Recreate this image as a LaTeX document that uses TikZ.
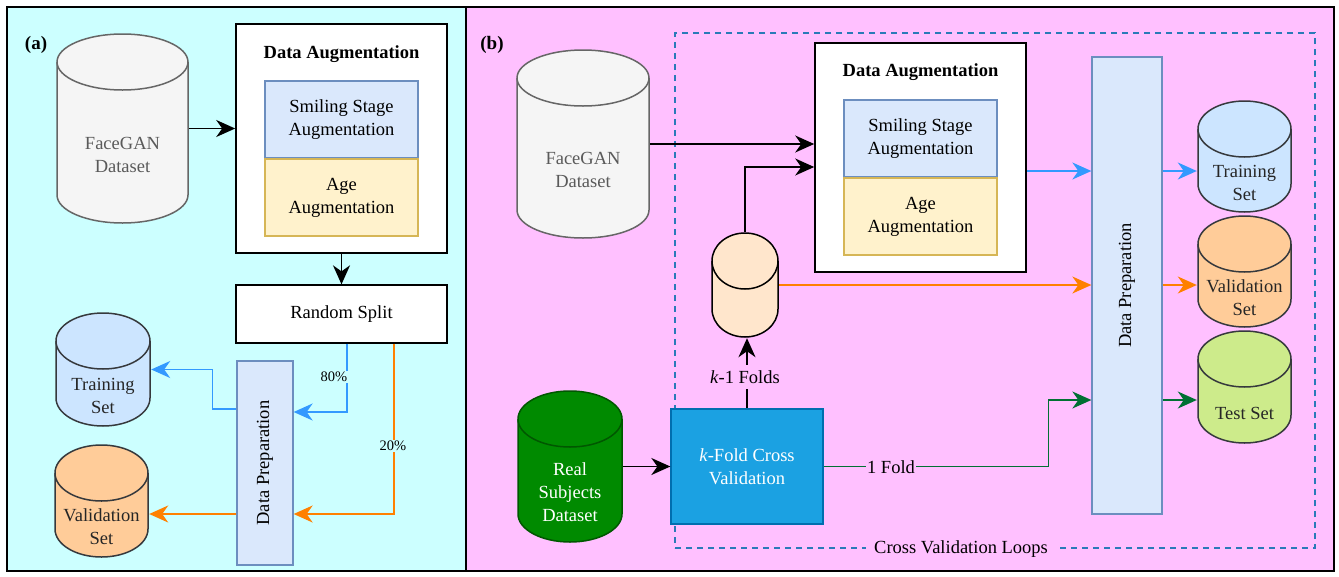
\documentclass[tikz,border=0pt]{standalone}
\usepackage{fontspec}
\setmainfont{Liberation Serif}
\usetikzlibrary{positioning}
\usetikzlibrary{calc}
\usetikzlibrary{arrows.meta}
\definecolor{cyanbg}{HTML}{CCFFFF}
\definecolor{pinkbg}{HTML}{FFC0FF}
\definecolor{fgfill}{HTML}{F5F5F5}
\definecolor{fggray}{HTML}{666666}
\definecolor{fgtext}{HTML}{5A5A5A}
\definecolor{dbline}{HTML}{36393D}
\definecolor{trainfill}{HTML}{CCE5FF}
\definecolor{valfill}{HTML}{FFCC99}
\definecolor{testfill}{HTML}{CDEB8B}
\definecolor{foldfill}{HTML}{FFE6CC}
\definecolor{realfill}{HTML}{008A00}
\definecolor{realline}{HTML}{005700}
\definecolor{kffill}{HTML}{1BA1E2}
\definecolor{kfline}{HTML}{006EAF}
\definecolor{smilefill}{HTML}{DAE8FC}
\definecolor{smileline}{HTML}{6C8EBF}
\definecolor{agefill}{HTML}{FFF2CC}
\definecolor{ageline}{HTML}{D6B656}
\definecolor{arrblue}{HTML}{3399FF}
\definecolor{arrorange}{HTML}{FF8000}
\definecolor{arrgreen}{HTML}{007033}
\definecolor{loopblue}{HTML}{2A7AB8}
\tikzset{%
  db/.style n args = {4}{rectangle, inner sep=0pt,
        minimum width=#3, minimum height=#4,
        path picture={
          \path[fill=#1, draw=#2, line width=1.5pt]
            ([xshift=1pt,yshift=-29pt]path picture bounding box.north west)
            -- ([xshift=1pt,yshift=29pt]path picture bounding box.south west)
            arc[start angle=180, end angle=360, x radius=#3/2-1pt, y radius=28pt]
            -- ([xshift=-1pt,yshift=-29pt]path picture bounding box.north east)
            arc[start angle=0, end angle=180, x radius=#3/2-1pt, y radius=28pt]
            -- cycle;
          \draw[#2, line width=1.5pt]
            ([xshift=1pt,yshift=-29pt]path picture bounding box.north west)
            arc[start angle=180, end angle=360, x radius=#3/2-1pt, y radius=28pt];
        }},
  dbtext/.style = {align=center, yshift=-26pt, text=black!85},
  box/.style = {rectangle, draw, line width=1.6pt, fill=white, inner sep=0pt},
  title/.style = {font=\fontsize{18.5pt}{23pt}\selectfont\bfseries},
  smile/.style = {rectangle, draw=smileline, fill=smilefill, line width=1.3pt,
        minimum width=153pt, minimum height=77pt, align=center, inner sep=0pt},
  age/.style = {rectangle, draw=ageline, fill=agefill, line width=1.3pt,
        minimum width=153pt, minimum height=77pt, align=center, inner sep=0pt},
  prep/.style = {rectangle, draw=smileline, fill=smilefill, line width=1.3pt,
        inner sep=0pt},
  kfold/.style = {rectangle, draw=kfline, fill=kffill, line width=1.3pt,
        minimum width=152pt, minimum height=115pt, align=center, text=white},
  loopbox/.style = {rectangle, draw=loopblue, dash pattern=on 6pt off 5pt,
        line width=1.5pt},
  panel/.style = {font=\fontsize{19pt}{23pt}\selectfont\bfseries},
  pct/.style = {font=\fontsize{14.5pt}{17pt}\selectfont, inner sep=1pt},
  lbl/.style = {inner sep=2pt},
  blackarrow/.style = {-{Stealth[length=19pt,width=17pt,inset=6pt]}, line width=1.6pt},
  bluearrow/.style = {blackarrow, draw=arrblue},
  orangearrow/.style = {blackarrow, draw=arrorange},
  greenarrow/.style = {blackarrow, draw=arrgreen}
}

\begin{document}
\begin{tikzpicture}[x=1pt, y=-1pt, font=\fontsize{18.5pt}{23pt}\selectfont]
\useasboundingbox (0,0) rectangle (1339,576);
% panels
\draw[line width=2pt, fill=cyanbg] (7,7) rectangle (466,571);
\draw[line width=2pt, fill=pinkbg] (466,7) rectangle (1334,571);
\node[panel] (tagA) at (36,45) {(a)};
\node[panel] (tagB) at (492,45) {(b)};

% (a) random split
\node[db={fgfill}{fggray}{133pt}{191pt},
      label={[dbtext, text=fgtext]center:FaceGAN\\Dataset}] (fgA) at (122.5,128.5) {};
\node[box, minimum width=211pt, minimum height=229pt] (augA) at (341.5,138.5) {};
\node[title] (augAt) at (341.5,54) {Data Augmentation};
\node[smile] (smileA) at (341.5,119.5) {Smiling Stage\\Augmentation};
\node[age] (ageA) at (341.5,197.5) {Age\\Augmentation};
\node[box, minimum width=211pt, minimum height=58pt, line width=1.3pt] (splitA) at (341.5,314) {Random Split};
\node[db={trainfill}{dbline}{96pt}{115pt},
      label={[dbtext]center:Training\\Set}] (trainA) at (103,369.5) {};
\node[db={valfill}{dbline}{95pt}{114pt},
      label={[dbtext]center:Validation\\Set}] (valA) at (101.5,501) {};
\node[prep, minimum width=56pt, minimum height=204pt] (prepA) at (265,463) {\rotatebox{90}{Data Preparation}};

\draw[blackarrow] (fgA.east) -- (fgA.east -| augA.west);
\draw[blackarrow] (augA.south) -- (splitA.north);
\draw[bluearrow] ([xshift=5.5pt]splitA.south) |- ([yshift=51pt]prepA.east);
\draw[bluearrow] ([yshift=54pt]prepA.west) -- ++(-24,0) |- (trainA.east);
\draw[orangearrow] ([xshift=52.5pt]splitA.south) |- ([yshift=-51pt]prepA.east);
\draw[orangearrow] ([yshift=-51pt]prepA.west) -- ([yshift=-51pt]prepA.west -| valA.east);
\node[pct, fill=cyanbg] (lbl80) at (334,377) {80\%};
\node[pct, fill=cyanbg] (lbl20) at (393,446) {20\%};

% (b) cross validation
\node[loopbox, minimum width=640pt, minimum height=515pt] (loops) at (995,290.5) {};
\node[db={fgfill}{fggray}{134pt}{190pt},
      label={[dbtext, text=fgtext]center:FaceGAN\\Dataset}] (fgB) at (583,144) {};
\node[box, minimum width=211pt, minimum height=229pt] (augB) at (920.5,157.5) {};
\node[title] (augBt) at (920.5,72) {Data Augmentation};
\node[smile] (smileB) at (920.5,138.5) {Smiling Stage\\Augmentation};
\node[age] (ageB) at (920.5,216.5) {Age\\Augmentation};
\node[db={foldfill}{black}{68pt}{106pt}] (foldsB) at (745,285) {};
\node[prep, minimum width=70pt, minimum height=457pt] (prepB) at (1127,285.5) {\rotatebox{90}{Data Preparation}};
\node[db={trainfill}{dbline}{95pt}{113pt},
      label={[dbtext]center:Training\\Set}] (trainB) at (1244.5,156.5) {};
\node[db={valfill}{dbline}{95pt}{113pt},
      label={[dbtext]center:Validation\\Set}] (valB) at (1244.5,271.5) {};
\node[db={testfill}{dbline}{95pt}{114pt},
      label={[dbtext]center:Test Set}] (testB) at (1244.5,387) {};
\node[kfold] (kfB) at (747,466.5) {\textit{k}-Fold Cross\\Validation};
\node[db={realfill}{realline}{106pt}{153pt},
      label={[dbtext, text=white]center:Real\\Subjects\\Dataset}] (realB) at (570,466.5) {};

\draw[blackarrow] (fgB.east) -- (fgB.east -| augB.west);
\draw[blackarrow] (foldsB.north) |- ([yshift=-9.5pt]augB.west);
\draw[bluearrow] ([yshift=-13.5pt]augB.east) -- ([yshift=-13.5pt]augB.east -| prepB.west);
\draw[bluearrow] ([yshift=-13.5pt]augB.east -| prepB.east) -- ([yshift=-13.5pt]augB.east -| trainB.west);
\draw[orangearrow] (foldsB.east) -- (foldsB.east -| prepB.west);
\draw[orangearrow] (foldsB.east -| prepB.east) -- (foldsB.east -| valB.west);
\draw[blackarrow] (realB.east) -- (kfB.west);
\draw[blackarrow] (kfB.north) -- (kfB.north |- foldsB.south);
\draw[greenarrow] (kfB.east) -- ++(225,0) |- ([yshift=-114.5pt]prepB.west);
\draw[greenarrow] ([yshift=-114.5pt]prepB.east) -- ([yshift=-114.5pt]prepB.east -| testB.west);
\node[lbl, fill=pinkbg, inner sep=5pt] (lblk) at (745,377) {\textit{k}-1 Folds};
\node[lbl, fill=pinkbg, inner sep=1pt] (lbl1) at (891,467) {1 Fold};
\node[lbl, fill=pinkbg, inner xsep=8pt] (lblloop) at ([xshift=-34pt]loops.south) {Cross Validation Loops};
\end{tikzpicture}
\end{document}
